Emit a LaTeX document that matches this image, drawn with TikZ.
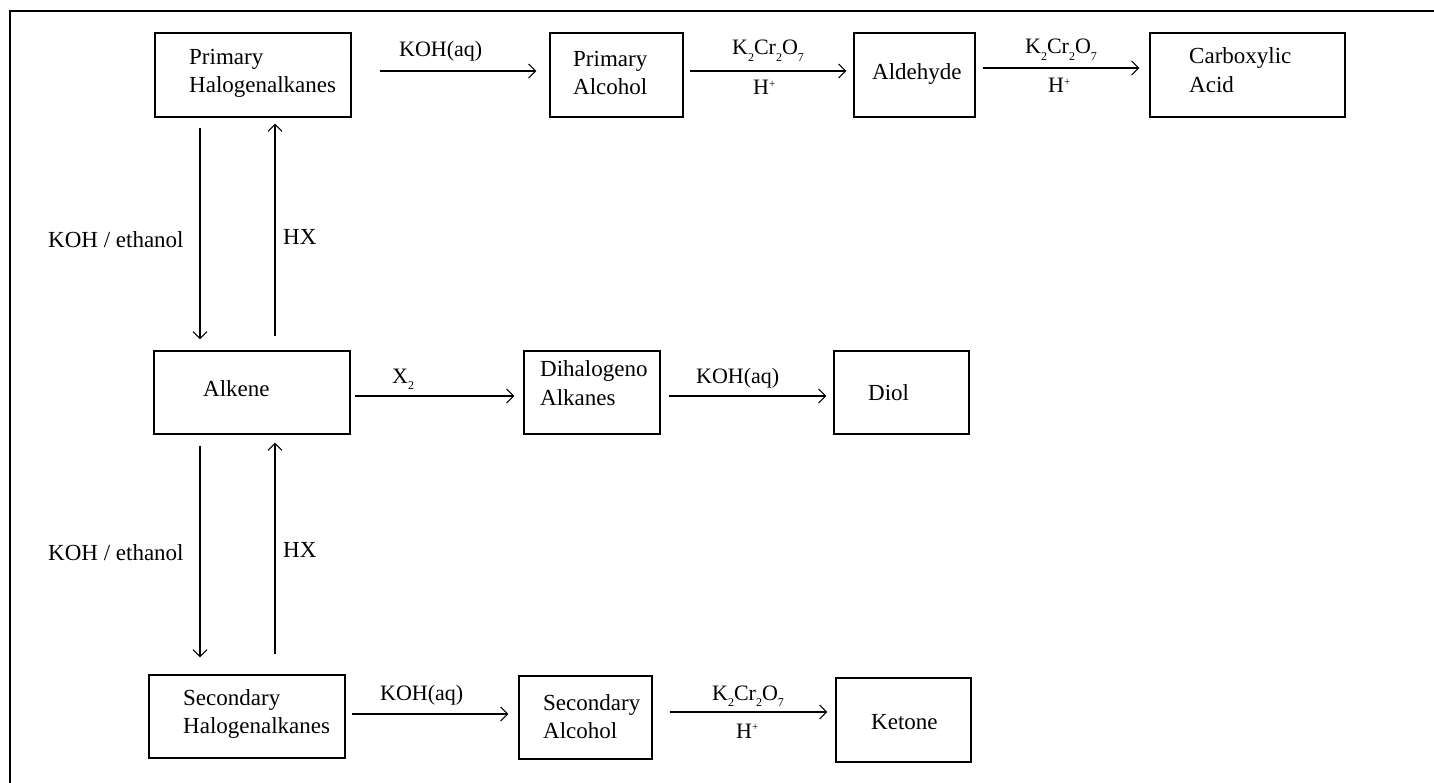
\documentclass[tikz,border=0pt]{standalone}
\usepackage{fontspec}
\setmainfont{Liberation Serif}
\usetikzlibrary{arrows.meta}
\newcommand{\chsub}[1]{\raisebox{-0.3em}{\fontsize{12}{12}\selectfont #1}}
\newcommand{\chsup}[1]{\raisebox{0.35em}{\fontsize{11}{11}\selectfont #1}}
\begin{document}
\begin{tikzpicture}[x=1pt,y=-1pt,
  box/.style={draw, line width=1.2pt, inner sep=0pt},
  txt/.style={anchor=base west, inner sep=0pt, font=\fontsize{23}{28}\selectfont},
  lbl/.style={anchor=base west, inner sep=0pt, font=\fontsize{22}{26}\selectfont},
  clbl/.style={anchor=base, inner sep=0pt, font=\fontsize{22}{26}\selectfont},
  arr/.style={line width=1.1pt, -{Straight Barb[length=7pt,width=14pt]}},
  frame/.style={line width=2.2pt}]
\useasboundingbox (0,0) rectangle (1434,783);
\draw[frame] (1434,11) -- (10,11) -- (10,783);

% boxes
\node[box, minimum width=196pt, minimum height=84pt] (ph)   at (253,75) {};
\node[box, minimum width=133pt, minimum height=84pt] (pa)   at (616.5,75) {};
\node[box, minimum width=121pt, minimum height=84pt] (ald)  at (914.5,75) {};
\node[box, minimum width=195pt, minimum height=84pt] (ca)   at (1247.5,75) {};
\node[box, minimum width=196pt, minimum height=83pt] (alk)  at (252,392.5) {};
\node[box, minimum width=136pt, minimum height=83pt] (dh)   at (592,392.5) {};
\node[box, minimum width=135pt, minimum height=83pt] (diol) at (901.5,392.5) {};
\node[box, minimum width=196pt, minimum height=83pt] (sh)   at (247,716.5) {};
\node[box, minimum width=133pt, minimum height=83pt] (sa)   at (585.5,717.5) {};
\node[box, minimum width=135pt, minimum height=84pt] (ket)  at (903.5,720) {};

% box texts
\node[txt] (t1a) at (189,65) {Primary};
\node[txt] (t1b) at (189,93) {Halogenalkanes};
\node[txt] (t2a) at (573,67) {Primary};
\node[txt] (t2b) at (573,95) {Alcohol};
\node[txt] (t3)  at (872,80) {Aldehyde};
\node[txt] (t4a) at (1189,64) {Carboxylic};
\node[txt] (t4b) at (1189,93) {Acid};
\node[txt] (t5)  at (203,396) {Alkene};
\node[txt] (t6a) at (540,376) {Dihalogeno};
\node[txt] (t6b) at (540,405) {Alkanes};
\node[txt] (t7)  at (868,400) {Diol};
\node[txt] (t8a) at (183,705) {Secondary};
\node[txt] (t8b) at (183,733) {Halogenalkanes};
\node[txt] (t9a) at (543,710) {Secondary};
\node[txt] (t9b) at (543,738) {Alcohol};
\node[txt] (t10) at (871,729) {Ketone};

% horizontal arrows
\draw[arr] ([shift={(28,-4)}]ph.east) -- ([shift={(-13,-4)}]pa.west);
\draw[arr] ([shift={(6,-4)}]pa.east) -- ([shift={(-7,-4)}]ald.west);
\draw[arr] ([shift={(7,-7)}]ald.east) -- ([shift={(-10,-7)}]ca.west);
\draw[arr] ([shift={(4,3.5)}]alk.east) -- ([shift={(-9,3.5)}]dh.west);
\draw[arr] ([shift={(8,3.5)}]dh.east) -- ([shift={(-7,3.5)}]diol.west);
\draw[arr] ([shift={(6,-2.5)}]sh.east) -- ([shift={(-10,-3.5)}]sa.west);
\draw[arr] ([shift={(17,-5.5)}]sa.east) -- ([shift={(-8,-8)}]ket.west);

% vertical arrows
\draw[arr] ([shift={(-53,10)}]ph.south) -- ([shift={(-52,-11)}]alk.north);
\draw[arr] ([shift={(23,-14)}]alk.north) -- ([shift={(22,6)}]ph.south);
\draw[arr] ([shift={(-52,11)}]alk.south) -- ([shift={(-47,-17)}]sh.north);
\draw[arr] ([shift={(28,-20)}]sh.north) -- ([shift={(23,8)}]alk.south);

% arrow labels
\node[lbl] (l1) at (399,57) {KOH(aq)};
\node[clbl] (l2) at (768,55) {K\chsub{2}Cr\chsub{2}O\chsub{7}};
\node[lbl] (l2h) at (753,95) {H\chsup{+}};
\node[clbl] (l3) at (1061,54) {K\chsub{2}Cr\chsub{2}O\chsub{7}};
\node[lbl] (l3h) at (1048,93) {H\chsup{+}};
\node[lbl] (l4) at (392,383) {X\chsub{2}};
\node[lbl] (l5) at (696,383) {KOH(aq)};
\node[lbl] (l6) at (380,700) {KOH(aq)};
\node[clbl] (l7) at (748,700) {K\chsub{2}Cr\chsub{2}O\chsub{7}};
\node[lbl] (l7h) at (736,738) {H\chsup{+}};
\node[txt] (v1) at (48,248) {KOH / ethanol};
\node[txt] (v2) at (283,245) {HX};
\node[txt] (v3) at (48,560) {KOH / ethanol};
\node[txt] (v4) at (283,557) {HX};
\end{tikzpicture}
\end{document}
